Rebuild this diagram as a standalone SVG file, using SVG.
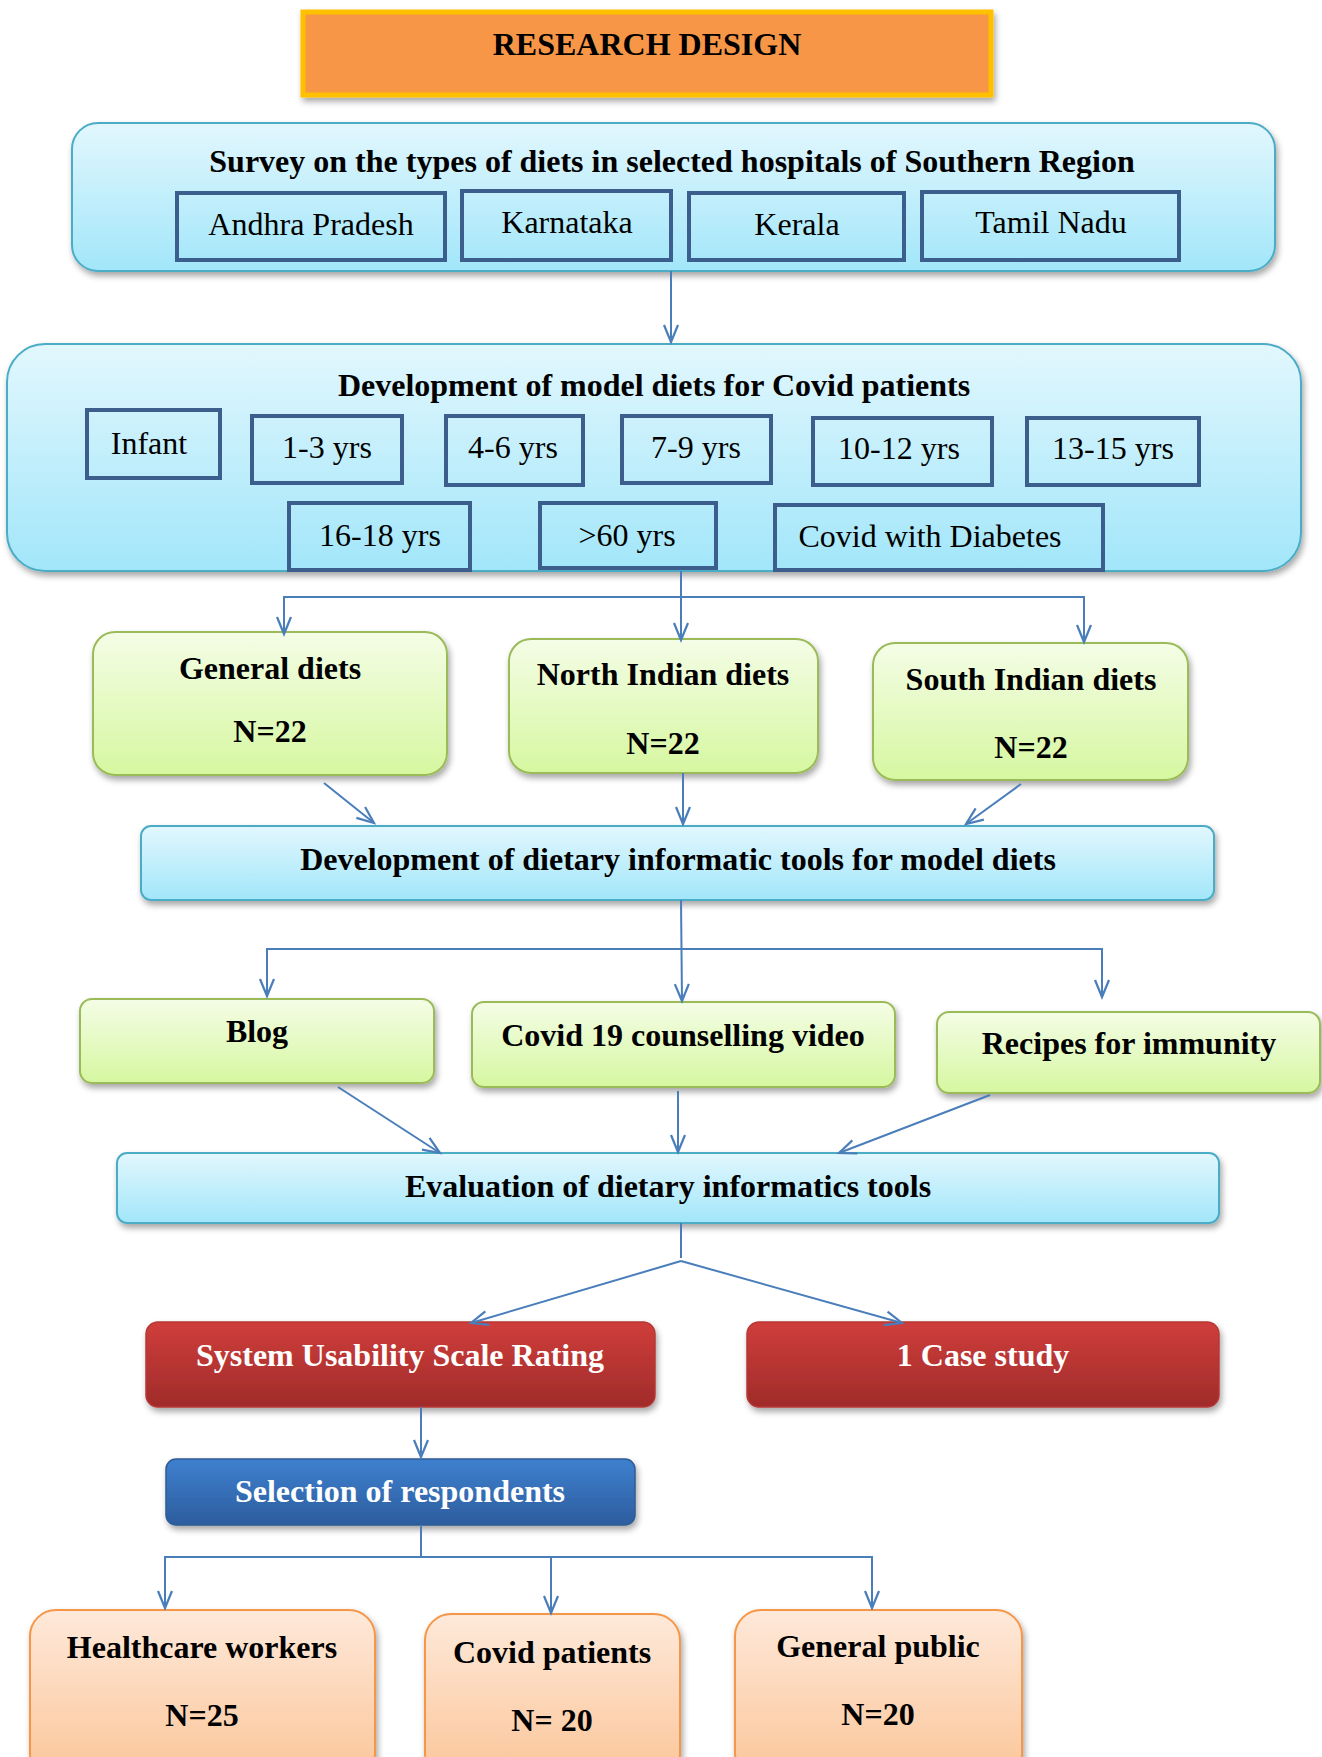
<svg xmlns="http://www.w3.org/2000/svg" width="1322" height="1757" viewBox="0 0 1322 1757">
<defs>
<linearGradient id="gCyan" x1="0" y1="0" x2="0" y2="1"><stop offset="0" stop-color="#E2F7FD"/><stop offset="1" stop-color="#A2E6FA"/></linearGradient>
<linearGradient id="gGreen" x1="0" y1="0" x2="0" y2="1"><stop offset="0" stop-color="#F4FDE6"/><stop offset="1" stop-color="#D6F7A0"/></linearGradient>
<linearGradient id="gRed" x1="0" y1="0" x2="0" y2="1"><stop offset="0" stop-color="#CF3E3B"/><stop offset="1" stop-color="#A02B2A"/></linearGradient>
<linearGradient id="gBlue" x1="0" y1="0" x2="0" y2="1"><stop offset="0" stop-color="#3F80CF"/><stop offset="1" stop-color="#2C5D9E"/></linearGradient>
<linearGradient id="gOrange" x1="0" y1="0" x2="0" y2="1"><stop offset="0" stop-color="#FEE9DA"/><stop offset="1" stop-color="#FBC598"/></linearGradient>
<filter id="sh" x="-10%" y="-10%" width="130%" height="150%"><feDropShadow dx="2" dy="4" stdDeviation="3" flood-color="#000" flood-opacity="0.35"/></filter>
<marker id="arr" markerUnits="userSpaceOnUse" markerWidth="22" markerHeight="20" refX="19" refY="10" orient="auto"><path d="M2,3 L19,10 L2,17" fill="none" stroke="#4A7EBB" stroke-width="2.2"/></marker>
</defs>
<style>
.t{font-family:"Liberation Serif","Times New Roman",serif;font-size:32px;text-anchor:middle;fill:#000}
.b{font-weight:bold}
.w{fill:#fff}
.sub{fill:none;stroke:#3B5E8C;stroke-width:4}
.cyan{fill:url(#gCyan);stroke:#4BACC6;stroke-width:2}
.green{fill:url(#gGreen);stroke:#9BBB59;stroke-width:2}
.red{fill:url(#gRed);stroke:#B53835;stroke-width:1.5}
.blue{fill:url(#gBlue);stroke:#2F5C94;stroke-width:1.5}
.orange{fill:url(#gOrange);stroke:#F79646;stroke-width:2}
.conn{fill:none;stroke:#4A7EBB;stroke-width:2}
</style>

<g id="title">
<rect x="303" y="12" width="688" height="83" fill="#F79646" stroke="#FFC000" stroke-width="5" filter="url(#sh)"/>
<text class="t b" x="647" y="55">RESEARCH DESIGN</text>
</g>

<g id="survey">
<rect x="72" y="123" width="1203" height="148" rx="26" class="cyan" filter="url(#sh)"/>
<text class="t b" x="672" y="172">Survey on the types of diets in selected hospitals of Southern Region</text>
</g>
<g id="andhra"><rect x="177" y="193" width="268" height="67" class="sub"/><text class="t" x="311" y="235">Andhra Pradesh</text></g>
<g id="karnataka"><rect x="462" y="191" width="209" height="69" class="sub"/><text class="t" x="567" y="233">Karnataka</text></g>
<g id="kerala"><rect x="689" y="193" width="215" height="67" class="sub"/><text class="t" x="797" y="235">Kerala</text></g>
<g id="tamilnadu"><rect x="922" y="192" width="257" height="68" class="sub"/><text class="t" x="1051" y="233">Tamil Nadu</text></g>

<g id="development">
<rect x="7" y="344" width="1294" height="227" rx="38" class="cyan" filter="url(#sh)"/>
<text class="t b" x="654" y="396">Development of model diets for Covid patients</text>
</g>
<g id="infant"><rect x="87" y="410" width="133" height="68" class="sub"/><text class="t" x="149" y="454">Infant</text></g>
<g id="age1-3"><rect x="252" y="416" width="150" height="67" class="sub"/><text class="t" x="327" y="458">1-3 yrs</text></g>
<g id="age4-6"><rect x="446" y="416" width="137" height="69" class="sub"/><text class="t" x="513" y="458">4-6 yrs</text></g>
<g id="age7-9"><rect x="622" y="416" width="149" height="67" class="sub"/><text class="t" x="696" y="458">7-9 yrs</text></g>
<g id="age10-12"><rect x="813" y="418" width="179" height="67" class="sub"/><text class="t" x="899" y="459">10-12 yrs</text></g>
<g id="age13-15"><rect x="1027" y="418" width="172" height="67" class="sub"/><text class="t" x="1113" y="459">13-15 yrs</text></g>
<g id="age16-18"><rect x="289" y="503" width="181" height="67" class="sub"/><text class="t" x="380" y="546">16-18 yrs</text></g>
<g id="age60"><rect x="540" y="503" width="176" height="65" class="sub"/><text class="t" x="627" y="546">&gt;60 yrs</text></g>
<g id="diabetes"><rect x="775" y="505" width="328" height="65" class="sub"/><text class="t" x="930" y="547">Covid with Diabetes</text></g>

<g id="general-diets"><rect x="93" y="632" width="354" height="143" rx="22" class="green" filter="url(#sh)"/><text class="t b" x="270" y="679">General diets</text><text class="t b" x="270" y="742">N=22</text></g>
<g id="north-diets"><rect x="509" y="639" width="309" height="134" rx="22" class="green" filter="url(#sh)"/><text class="t b" x="663" y="685">North Indian diets</text><text class="t b" x="663" y="754">N=22</text></g>
<g id="south-diets"><rect x="873" y="643" width="315" height="137" rx="22" class="green" filter="url(#sh)"/><text class="t b" x="1031" y="690">South Indian diets</text><text class="t b" x="1031" y="758">N=22</text></g>

<g id="tools"><rect x="141" y="826" width="1073" height="74" rx="10" class="cyan" filter="url(#sh)"/><text class="t b" x="678" y="870">Development of dietary informatic tools for model diets</text></g>

<g id="blog"><rect x="80" y="999" width="354" height="84" rx="12" class="green" filter="url(#sh)"/><text class="t b" x="257" y="1042">Blog</text></g>
<g id="video"><rect x="472" y="1002" width="423" height="85" rx="12" class="green" filter="url(#sh)"/><text class="t b" x="683" y="1046">Covid 19 counselling video</text></g>
<g id="recipes"><rect x="937" y="1012" width="383" height="81" rx="12" class="green" filter="url(#sh)"/><text class="t b" x="1129" y="1054">Recipes for immunity</text></g>

<g id="evaluation"><rect x="117" y="1153" width="1102" height="70" rx="10" class="cyan" filter="url(#sh)"/><text class="t b" x="668" y="1197">Evaluation of dietary informatics tools</text></g>

<g id="sus"><rect x="146" y="1322" width="509" height="85" rx="12" class="red" filter="url(#sh)"/><text class="t b w" x="400" y="1366">System Usability Scale Rating</text></g>
<g id="case-study"><rect x="747" y="1322" width="472" height="85" rx="12" class="red" filter="url(#sh)"/><text class="t b w" x="983" y="1366">1 Case study</text></g>

<g id="selection"><rect x="166" y="1459" width="469" height="66" rx="10" class="blue" filter="url(#sh)"/><text class="t b w" x="400" y="1502">Selection of respondents</text></g>

<g id="healthcare"><rect x="30" y="1610" width="345" height="170" rx="26" class="orange" filter="url(#sh)"/><text class="t b" x="202" y="1658">Healthcare workers</text><text class="t b" x="202" y="1726">N=25</text></g>
<g id="covid-patients"><rect x="425" y="1614" width="255" height="166" rx="26" class="orange" filter="url(#sh)"/><text class="t b" x="552" y="1663">Covid patients</text><text class="t b" x="552" y="1731">N= 20</text></g>
<g id="public"><rect x="735" y="1610" width="287" height="170" rx="26" class="orange" filter="url(#sh)"/><text class="t b" x="878" y="1657">General public</text><text class="t b" x="878" y="1725">N=20</text></g>

<g id="connectors">
<line class="conn" x1="671" y1="271" x2="671" y2="342" marker-end="url(#arr)"/>
<line class="conn" x1="681" y1="571" x2="681" y2="640" marker-end="url(#arr)"/>
<polyline class="conn" points="284,634 284,597 1084,597 1084,642" marker-end="url(#arr)"/>
<path class="conn" d="M284,597 L284,634" marker-end="url(#arr)"/>
<line class="conn" x1="324" y1="783" x2="374" y2="823" marker-end="url(#arr)"/>
<line class="conn" x1="683" y1="773" x2="683" y2="824" marker-end="url(#arr)"/>
<line class="conn" x1="1021" y1="784" x2="966" y2="824" marker-end="url(#arr)"/>
<line class="conn" x1="681" y1="900" x2="682" y2="1001" marker-end="url(#arr)"/>
<polyline class="conn" points="267,996 267,949 1102,949 1102,997" marker-end="url(#arr)"/>
<path class="conn" d="M267,949 L267,996" marker-end="url(#arr)"/>
<line class="conn" x1="338" y1="1087" x2="440" y2="1153" marker-end="url(#arr)"/>
<line class="conn" x1="678" y1="1091" x2="678" y2="1152" marker-end="url(#arr)"/>
<line class="conn" x1="990" y1="1095" x2="839" y2="1153" marker-end="url(#arr)"/>
<line class="conn" x1="681" y1="1223" x2="681" y2="1258"/>
<polyline class="conn" points="681,1261 471,1323" marker-end="url(#arr)"/>
<polyline class="conn" points="681,1261 902,1323" marker-end="url(#arr)"/>
<line class="conn" x1="421" y1="1407" x2="421" y2="1457" marker-end="url(#arr)"/>
<line class="conn" x1="421" y1="1525" x2="421" y2="1557"/>
<polyline class="conn" points="165,1608 165,1557 872,1557 872,1608" marker-end="url(#arr)"/>
<path class="conn" d="M165,1557 L165,1608" marker-end="url(#arr)"/>
<line class="conn" x1="551" y1="1557" x2="551" y2="1613" marker-end="url(#arr)"/>
</g>
</svg>
